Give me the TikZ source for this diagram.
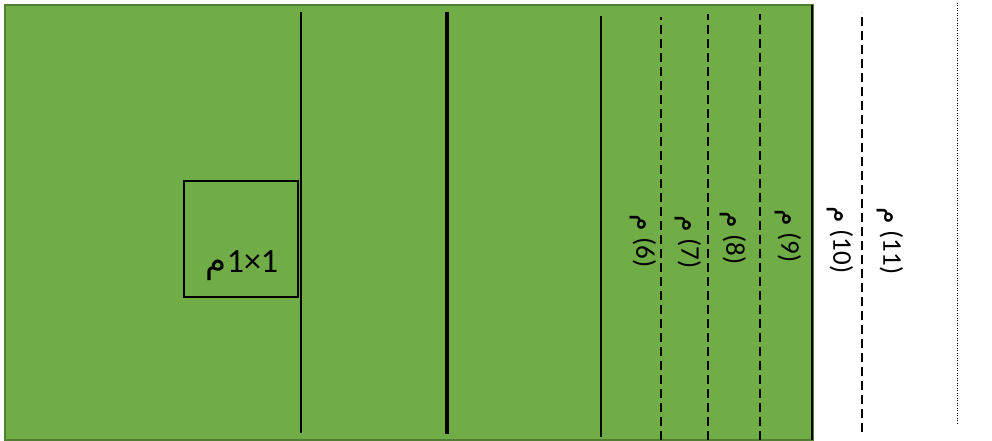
\documentclass[tikz,border=0pt]{standalone}
\usepackage{fontspec}
\setmainfont{Carlito}
\newfontfamily\arabicfont[Script=Arabic]{DejaVu Sans}
\TeXXeTstate=1
\usetikzlibrary{positioning,calc}
\definecolor{FieldGreen}{RGB}{112,173,71}
\definecolor{FieldEdge}{RGB}{80,126,50}
\tikzset{
  field/.style={fill=FieldGreen,draw=FieldEdge,line width=1.5pt},
  mark line/.style={draw=black,line width=1.5pt},
  mid line/.style={draw=black,line width=4.5pt},
  dash line/.style={draw=black,line width=2.3pt,dash pattern=on 9pt off 5pt},
  dot line/.style={draw=black,line width=1pt,dash pattern=on 1pt off 1.5pt},
  dist/.style={rotate=-90,font=\fontsize{27}{30}\selectfont,inner sep=0pt},
}
\newcommand{\meter}[1]{\beginR\beginL(#1)\endL{} {\arabicfont م}\endR}

\begin{document}
\begin{tikzpicture}[x=1pt,y=1pt]
\useasboundingbox (0,0) rectangle (992,441);
\draw[field] (5,1) rectangle (813,436);
% lines across the field
\draw[mark line] (301,8) -- (301,429);
\draw[mid line] (447,7) -- (447,429);
\draw[mark line] (601,4) -- (601,425);
\draw[dash line] (661,1) -- (661,424);
\draw[dash line] (708,1) -- (708,427);
\draw[dash line] (760,1) -- (760,427);
\draw[draw=black,line width=2pt] (812,1) -- (812,436);
\draw[dash line] (862,9) -- (862,429);
\draw[dot line] (957,17) -- (957,438);
% square
\node[draw=black,line width=1.5pt,minimum width=114pt,minimum height=116pt,inner sep=0pt] (sq) at (241,202) {};
\node[font=\fontsize{34}{38}\selectfont,inner sep=0pt] (sqlbl) at (242,175) {\beginR\beginL 1×1\endL{\arabicfont م}\endR};
% distances
\node[dist] (d6) at (643,200) {\meter{6}};
\node[dist] (d7) at (688,199) {\meter{7}};
\node[dist] (d8) at (733,203) {\meter{8}};
\node[dist] (d9) at (788,205) {\meter{9}};
\node[dist] (d10) at (840,201) {\meter{10}};
\node[dist] (d11) at (890,200) {\meter{11}};
\end{tikzpicture}
\end{document}
